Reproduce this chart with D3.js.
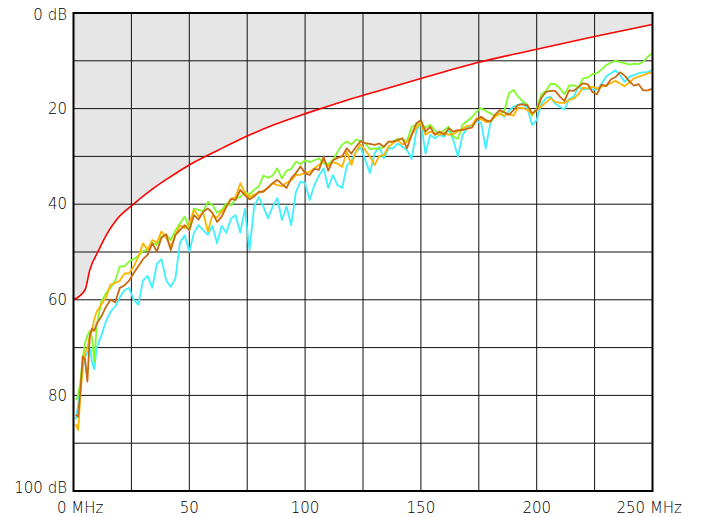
<!DOCTYPE html>
<html>
<head>
<meta charset="utf-8">
<script src="https://cdn.jsdelivr.net/npm/d3@7"></script>
<style>
  body { margin: 0; background: #fff; }
  text { font-family: "DejaVu Sans", sans-serif; font-size: 15px; font-weight: 300; fill: #000; }
</style>
</head>
<body>
<div id="chart"></div>
<script>
// frequency points (MHz) shared by the four measured traces
var freqs = [1,2,3,4,5,6,7,8,9,10,
  12,14,16,18,20,22,24,26,28,30,
  32,34,36,38,40,42,44,46,48,50,
  52,54,56,58,60,62,64,66,68,70,
  72,74,76,78,80,82,84,86,88,90,
  92,94,96,98,100,102,104,106,108,110,
  112,114,116,118,120,122,124,126,128,130,
  132,134,136,138,140,142,144,146,148,150,
  152,154,156,158,160,162,164,166,168,170,
  172,174,176,178,180,182,184,186,188,190,
  192,194,196,198,200,202,204,206,208,210,
  212,214,216,218,220,222,224,226,228,230,
  232,234,236,238,240,242,244,246,248,250];

var cyanDb = [85,82,78,74.5,72,71,70,73,74.5,70,
  67.5,64.5,62.5,61.4,59.5,58,57.5,60,61,56,
  55,57.5,52.5,51.5,55.9,57.3,55.5,48,46.5,49.9,
  46,44.4,45.4,46.4,44.5,48.2,44.5,46,43,42.3,
  46,41,49.6,40.5,38.5,40.5,42.9,40.5,38.7,43.3,
  40.5,44.4,37.5,35.3,35.6,39.1,36,34,32.5,36.6,
  33.9,36,36.6,32,30.8,29,28.2,30.8,33.5,29.4,
  28,30.4,28.3,28.3,27.3,28,28.7,30.5,24.8,22.7,
  29.4,25.5,26.2,25.5,25.9,24.5,26.6,30,25.5,24.1,
  23.4,22.6,23,28.3,23,21.5,21,21.7,20.5,19.6,
  19.2,18.9,20,23.4,22.4,19,17.8,17.5,19,19.6,
  20.2,18,17.5,15.4,16,15.8,16,16,14.8,13.3,
  12.6,12,13,14.4,13.3,13,12.6,12.4,12.3,11.9];

var greenDb = [81,80,77,72,69,67.5,66.5,68,73,65.5,
  60.4,58.6,57.5,56,53,53,52,51.5,50.8,49.8,
  49.5,48,48.5,46.8,46.4,47.5,45.5,44,42.6,45,
  40.9,41.2,41.5,39.5,40.2,41.8,41.2,39.8,40.3,38.8,
  38.5,37.4,38,37,36.3,34,34.5,34,32.5,34.6,
  33,32.6,31.1,31.6,30.8,31.2,30.8,30.4,31.5,31.6,
  30.8,29,27.5,26.9,27.5,26.5,26.8,27.3,28.5,28.3,
  28.4,28,27,26.9,26.3,26.5,26.8,23.8,23.4,23.1,
  24,23.4,24.5,25.2,24.5,23.8,25.9,26.3,23.4,22.6,
  21.8,20.6,19.9,20.5,21,21.5,21.2,20.5,16.8,16.1,
  17.5,18.5,19.2,21.5,20,17,16.3,14.8,14.9,15.8,
  17,15.2,15.1,15.6,13.7,13.5,12.8,12.6,11.8,10.9,
  10.4,10,10.3,10.5,10.8,10.6,10.7,10.2,9.1,8.4];

var orangeDb = [86,87.2,80,74,71,70,67.7,66.5,64,62.5,
  61,59.5,56.8,56.5,56,54.5,54.5,53,51,48.2,
  49.5,47.5,48,45.7,47,48.9,46.5,44.4,45,44,
  41.2,42.5,41.8,45.7,42.3,42.8,41.5,40.5,38.9,38.5,
  35.6,37.6,38.5,38,37.6,37.2,36.6,35.6,36,36.2,
  35.5,35,33.9,33.8,33.5,33.2,32.5,31.8,30.8,32,
  31.2,31.5,32.2,29,31.8,29,27.5,28.7,30,31.8,
  30,29.7,28,27.2,26.6,27.5,27,25.5,24,23.1,
  25.5,24.8,25.2,25.5,25,25.5,25.3,24.8,24.2,23.6,
  23.5,22,22.2,22.8,22.7,21.7,21,21.5,21.1,21.5,
  19.8,19.9,20.3,21.2,20.3,19.5,18.7,17.8,18.6,18.8,
  18.8,18.2,17.9,17,15.6,15.8,15.4,15.8,15.4,15.1,
  14.7,14.2,14.8,15.3,14.5,13.7,13.3,13,12.6,12.4];

var brownDb = [84,84.5,78.9,71.9,72.5,77.1,67.7,66,66.5,65,
  63.5,61.5,60,60.5,57.5,57,56,54.4,53,51.5,
  50.6,48.2,49.9,47,46.3,49.6,46.4,45.4,44.4,45.5,
  42.3,43.2,41.6,40.9,41.8,43.7,42.6,40.5,38.9,39.1,
  37,38.1,39,38.4,37.4,37.4,36.5,35.6,34.9,35.8,
  36.6,34.6,33.5,32.1,33.5,33.9,32.6,32.8,30.1,33,
  30.8,30.3,30,28.3,29.4,28,26.8,27.2,27.4,27.6,
  27.3,28,26.9,26.9,26.6,26.2,28.3,25.5,23.1,22.4,
  24.8,23.8,25.5,24.8,25.5,24.1,24.8,24.5,24.5,24.2,
  24,22.4,21.7,22.4,22.7,21.3,20.3,20.8,21.3,20.3,
  19.2,19.1,19.3,21,20.3,17.8,16.5,16.3,16.3,17.5,
  18.4,16.2,16.3,15.5,14.7,14.9,16.5,17,15,15.3,
  13.9,13.4,12.4,13.1,14.3,15.2,14.9,16.2,16.2,15.8];

// limit line
var limitF  = [0,5,7,10.6,14.2,18.5,25.4,33.6,40.8,50,62.4,72,86,100.5,117,133,150,175,200,225,250];
var limitDb = [60,57.9,53.8,49.9,46.4,43.3,40.2,37,34.6,31.8,28.7,26.4,23.5,21,18.4,16.1,13.7,10.3,7.6,4.9,2.4];

var xGridVals = [0,25,50,75,100,125,150,175,200,225,250];
var yGridVals = [0,10,20,30,40,50,60,70,80,90,100];
var xTickVals = [0,50,100,150,200,250];
var xTickText = ["0 MHz","50","100","150","200","250 MHz"];
var yTickVals = [0,20,40,60,80,100];
var yTickText = ["0 dB","20","40","60","80","100 dB"];

var margin = {top: 13, right: 48.5, bottom: 26, left: 73.5},
    width = 701 - margin.left - margin.right,
    height = 517 - margin.top - margin.bottom;

var svg = d3.select("#chart")
  .append("svg")
    .attr("width", 701)
    .attr("height", 517);

var g = svg.append("g")
    .attr("transform", "translate(" + margin.left + "," + margin.top + ")");

var x = d3.scaleLinear().domain([0, 250]).range([0, width]);
var y = d3.scaleLinear().domain([0, 100]).range([0, height]);

var limit = limitF.map(function(f, i) { return {f: f, db: limitDb[i]}; });

// shaded region above the limit line
g.append("path")
  .datum(limit)
  .attr("fill", "#e6e6e6")
  .attr("d", d3.area()
    .curve(d3.curveMonotoneX)
    .x(function(d) { return x(d.f); })
    .y0(y(0))
    .y1(function(d) { return y(d.db); }));

// grid
g.selectAll(".vgrid")
  .data(xGridVals)
  .enter().append("line")
    .attr("x1", function(d) { return x(d); })
    .attr("x2", function(d) { return x(d); })
    .attr("y1", 0)
    .attr("y2", height)
    .attr("stroke", "#111")
    .attr("stroke-width", 1);

g.selectAll(".hgrid")
  .data(yGridVals)
  .enter().append("line")
    .attr("x1", 0)
    .attr("x2", width)
    .attr("y1", function(d) { return y(d); })
    .attr("y2", function(d) { return y(d); })
    .attr("stroke", "#111")
    .attr("stroke-width", 1);

// traces
var series = [
  {vals: cyanDb,   color: "#3ff0ff"},
  {vals: greenDb,  color: "#80fc2c"},
  {vals: orangeDb, color: "#ffb400"},
  {vals: brownDb,  color: "#c86a10"}
];

var line = d3.line()
  .x(function(d) { return x(d.f); })
  .y(function(d) { return y(d.db); });

series.forEach(function(s) {
  var pts = freqs.map(function(f, i) { return {f: f, db: s.vals[i]}; });
  g.append("path")
    .datum(pts)
    .attr("fill", "none")
    .attr("stroke", s.color)
    .attr("stroke-width", 1.8)
    .attr("stroke-linejoin", "round")
    .attr("d", line);
});

g.append("path")
  .datum(limit)
  .attr("fill", "none")
  .attr("stroke", "#ff0000")
  .attr("stroke-width", 1.6)
  .attr("d", d3.line()
    .curve(d3.curveMonotoneX)
    .x(function(d) { return x(d.f); })
    .y(function(d) { return y(d.db); }));

// frame
g.append("rect")
  .attr("x", 0)
  .attr("y", 0)
  .attr("width", width)
  .attr("height", height)
  .attr("fill", "none")
  .attr("stroke", "#000")
  .attr("stroke-width", 2);

// labels
g.selectAll(".ylab")
  .data(yTickVals)
  .enter().append("text")
    .attr("text-anchor", "end")
    .attr("x", -6.5)
    .attr("y", function(d, i) {
      if (i == 0) return y(d) + 7;
      if (i == yTickVals.length - 1) return y(d) + 1.5;
      return y(d) + 5.2;
    })
    .text(function(d, i) { return yTickText[i]; });

g.selectAll(".xlab")
  .data(xTickVals)
  .enter().append("text")
    .attr("text-anchor", function(d, i) {
      if (i == 0) return "start";
      if (i == xTickVals.length - 1) return "end";
      return "middle";
    })
    .attr("x", function(d, i) {
      if (i == 0) return x(d) - 16.5;
      if (i == xTickVals.length - 1) return x(d) + 29.5;
      return x(d);
    })
    .attr("y", height + 21.7)
    .text(function(d, i) { return xTickText[i]; });
</script>
</body>
</html>
